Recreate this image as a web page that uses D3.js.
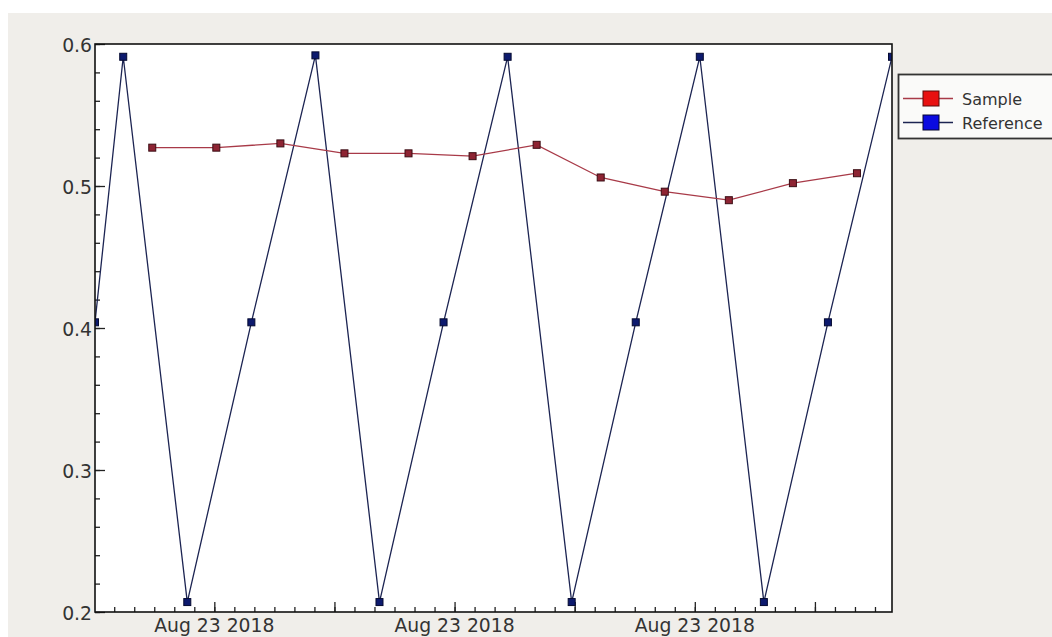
<!DOCTYPE html>
<html>
<head>
<meta charset="utf-8">
<script src="https://cdn.jsdelivr.net/npm/d3@7"></script>
<style>
  html, body { margin: 0; padding: 0; background: #ffffff; }
  svg { display: block; font-family: "DejaVu Sans", sans-serif; }
</style>
</head>
<body>
<svg id="chart" width="1052" height="637" viewBox="0 0 1052 637"></svg>
<script>
// Data (seconds after baseTime)
const baseTime = new Date(2018, 7, 23, 14, 29, 0);
const refSeconds = [0.4, 14.5, 46.5, 78.5, 110.5, 142.5, 174.5, 206.5, 238.5, 270.5, 302.5, 334.5, 366.5, 398.5];
const refValues = [0.404, 0.591, 0.207, 0.404, 0.592, 0.207, 0.404, 0.591, 0.207, 0.404, 0.591, 0.207, 0.404, 0.591];
const sampleSeconds = [29, 61, 93, 125, 157, 189, 221, 253, 285, 317, 349, 381];
const sampleValues = [0.527, 0.527, 0.530, 0.523, 0.523, 0.521, 0.529, 0.506, 0.496, 0.490, 0.502, 0.509];
const yTicks = [0.2, 0.3, 0.4, 0.5, 0.6];
const seriesNames = ["Sample", "Reference"];

const svg = d3.select("#chart");
const width = parseInt(svg.attr("viewBox").split(' ')[2]);
const height = parseInt(svg.attr("viewBox").split(' ')[3]);

const plot = { left: 95, top: 44, right: 892, bottom: 612 };

const toDate = s => new Date(baseTime.getTime() + s * 1000);
const refData = refSeconds.map((s, i) => ({ t: toDate(s), v: refValues[i] }));
const sampleData = sampleSeconds.map((s, i) => ({ t: toDate(s), v: sampleValues[i] }));

// window background
svg.append("rect")
    .attr("x", 8).attr("y", 13)
    .attr("width", width - 8).attr("height", height - 13)
    .attr("fill", "#f0eeea");

// scales
const x = d3.scaleTime()
    .domain([refData[0].t, refData[refData.length - 1].t])
    .range([plot.left, plot.right]);
const y = d3.scaleLinear()
    .domain([0.2, 0.6])
    .range([plot.bottom, plot.top]);

// canvas
svg.append("rect")
    .attr("x", plot.left).attr("y", plot.top)
    .attr("width", plot.right - plot.left).attr("height", plot.bottom - plot.top)
    .attr("fill", "#ffffff");

svg.append("clipPath").attr("id", "clip")
    .append("rect")
    .attr("x", plot.left).attr("y", plot.top)
    .attr("width", plot.right - plot.left).attr("height", plot.bottom - plot.top);

// x axis ticks (inside), minor every 10 s, major every minute
const xAxisG = svg.append("g").attr("transform", `translate(0,${plot.bottom})`);
xAxisG.call(d3.axisTop(x)
        .ticks(d3.timeSecond.every(10))
        .tickSize(5)
        .tickFormat(""))
    .call(g => g.select(".domain").remove());
const xMajor = svg.append("g").attr("transform", `translate(0,${plot.bottom})`);
xMajor.call(d3.axisTop(x)
        .ticks(d3.timeMinute.every(1))
        .tickSize(10)
        .tickFormat(""))
    .call(g => g.select(".domain").remove());
svg.selectAll(".tick line").attr("stroke", "#222").attr("stroke-width", 1.3);

// x labels (every other major tick)
const fmt = d3.timeFormat("%b %d %Y");
svg.append("g").selectAll("text")
    .data(x.ticks(d3.timeMinute.every(1)).filter(d => d.getMinutes() % 2 === 0))
    .join("text")
    .attr("x", d => x(d))
    .attr("y", plot.bottom + 20)
    .attr("text-anchor", "middle")
    .attr("font-size", 18.8)
    .attr("fill", "#333")
    .text(d => fmt(d));

// y axis ticks (inside)
const yAxisG = svg.append("g").attr("transform", `translate(${plot.left},0)`);
yAxisG.call(d3.axisRight(y).ticks(20).tickSize(5).tickFormat(""))
    .call(g => g.select(".domain").remove());
const yMajorG = svg.append("g").attr("transform", `translate(${plot.left},0)`);
yMajorG.call(d3.axisRight(y).tickValues(yTicks).tickSize(10).tickFormat(""))
    .call(g => g.select(".domain").remove());
yAxisG.selectAll(".tick line").attr("stroke", "#222").attr("stroke-width", 1.3);
yMajorG.selectAll(".tick line").attr("stroke", "#222").attr("stroke-width", 1.3);

svg.append("g").selectAll("text")
    .data(yTicks)
    .join("text")
    .attr("x", plot.left - 3)
    .attr("y", d => y(d) + 7.5)
    .attr("text-anchor", "end")
    .attr("font-size", 18.8)
    .attr("fill", "#333")
    .text(d => d3.format(".1f")(d));

// curves
const line = d3.line().x(d => x(d.t)).y(d => y(d.v));
const curves = svg.append("g").attr("clip-path", "url(#clip)");

curves.append("path")
    .datum(refData)
    .attr("fill", "none")
    .attr("stroke", "#1c2452")
    .attr("stroke-width", 1.3)
    .attr("d", line);
curves.selectAll(".refpt")
    .data(refData)
    .join("rect")
    .attr("class", "refpt")
    .attr("x", d => x(d.t) - 3.5).attr("y", d => y(d.v) - 3.5)
    .attr("width", 7).attr("height", 7)
    .attr("fill", "#0d1a6e").attr("stroke", "#050a30").attr("stroke-width", 1);

curves.append("path")
    .datum(sampleData)
    .attr("fill", "none")
    .attr("stroke", "#a83a48")
    .attr("stroke-width", 1.3)
    .attr("d", line);
curves.selectAll(".smppt")
    .data(sampleData)
    .join("rect")
    .attr("class", "smppt")
    .attr("x", d => x(d.t) - 3.5).attr("y", d => y(d.v) - 3.5)
    .attr("width", 7).attr("height", 7)
    .attr("fill", "#8e2433").attr("stroke", "#3b0d14").attr("stroke-width", 1);

// frame
svg.append("rect")
    .attr("x", plot.left).attr("y", plot.top)
    .attr("width", plot.right - plot.left).attr("height", plot.bottom - plot.top)
    .attr("fill", "none")
    .attr("stroke", "#111")
    .attr("stroke-width", 1.6);

// legend
const legend = svg.append("g");
legend.append("rect")
    .attr("x", 898.5).attr("y", 74.5)
    .attr("width", 160).attr("height", 64)
    .attr("fill", "#fafaf9")
    .attr("stroke", "#333")
    .attr("stroke-width", 1.8);
const legendColors = [
    { line: "#a83a48", fill: "#e81010", stroke: "#5a0a0a" },
    { line: "#1c2452", fill: "#0a0ae0", stroke: "#050530" }
];
const items = legend.selectAll(".item")
    .data(seriesNames)
    .join("g")
    .attr("class", "item")
    .attr("transform", (d, i) => `translate(0,${98.5 + i * 24})`);
items.append("line")
    .attr("x1", 903).attr("x2", 953)
    .attr("stroke", (d, i) => legendColors[i].line)
    .attr("stroke-width", 1.3);
items.append("rect")
    .attr("x", 923).attr("y", -7.5)
    .attr("width", 16).attr("height", 15)
    .attr("fill", (d, i) => legendColors[i].fill)
    .attr("stroke", (d, i) => legendColors[i].stroke)
    .attr("stroke-width", 1);
items.append("text")
    .attr("x", 962).attr("y", 6)
    .attr("font-size", 16)
    .attr("fill", "#333")
    .text(d => d);
</script>
</body>
</html>
